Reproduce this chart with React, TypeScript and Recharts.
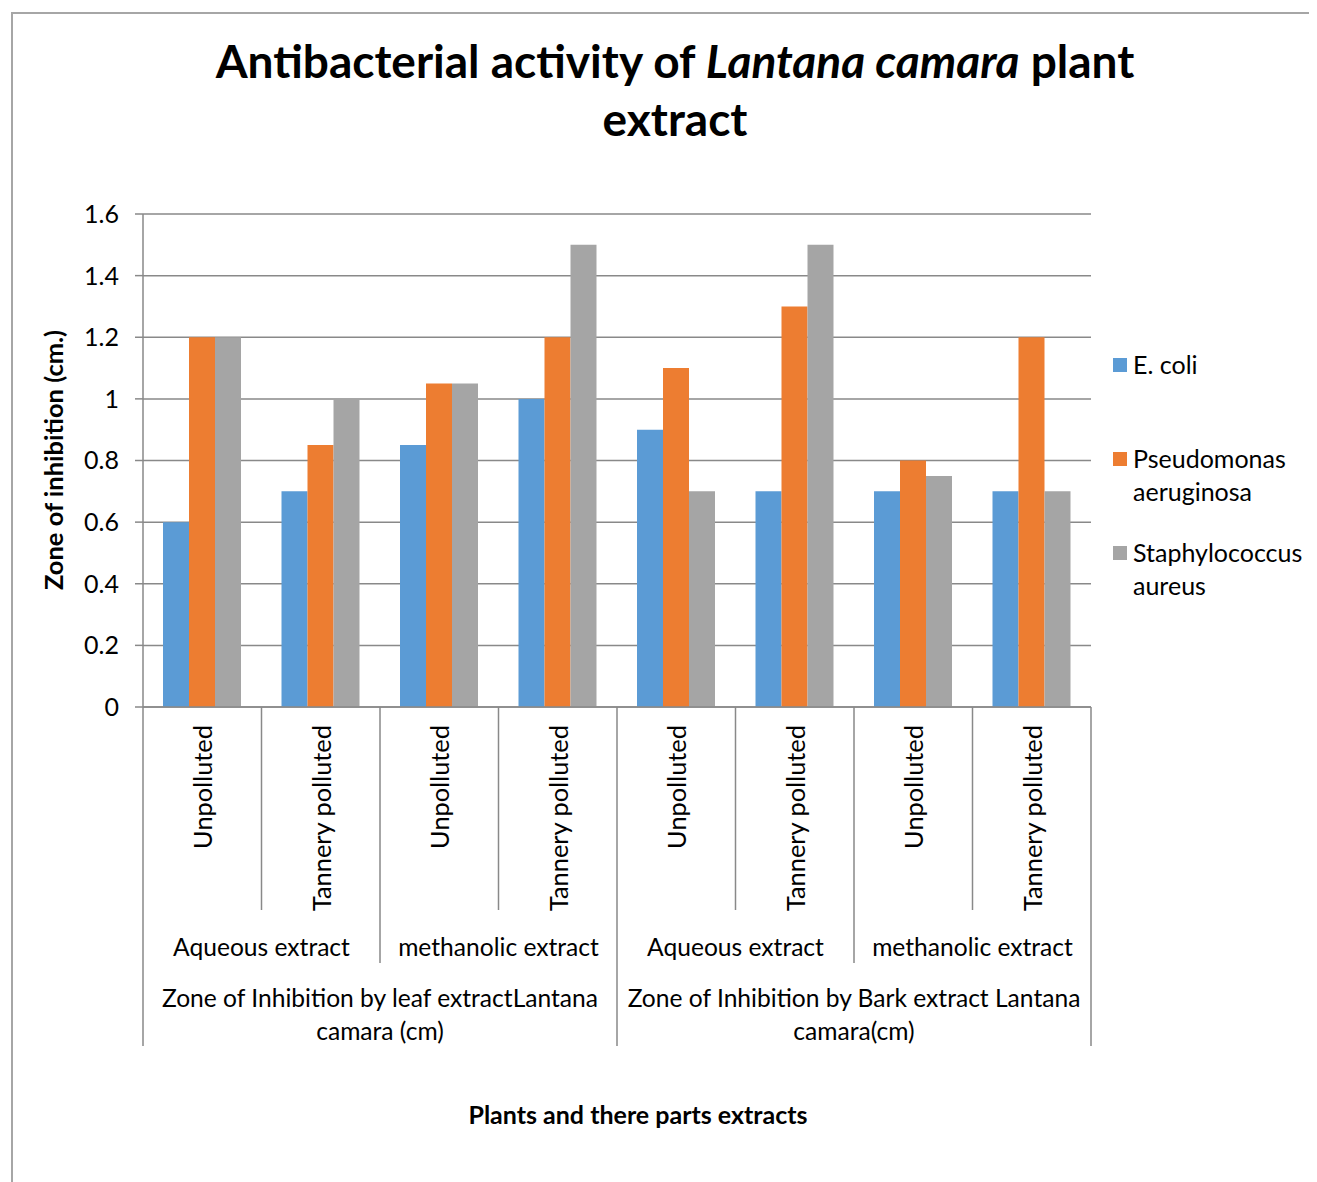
import { BarChart, Bar, XAxis, YAxis, CartesianGrid, Legend } from 'recharts';

const conditions = [
  'Unpolluted', 'Tannery polluted', 'Unpolluted', 'Tannery polluted',
  'Unpolluted', 'Tannery polluted', 'Unpolluted', 'Tannery polluted',
];
const extracts = ['Aqueous extract', 'methanolic extract', 'Aqueous extract', 'methanolic extract'];
const parts = [
  ['Zone of Inhibition by leaf extractLantana', 'camara (cm)'],
  ['Zone of Inhibition by Bark extract Lantana', 'camara(cm)'],
];
const eColi = [0.6, 0.7, 0.85, 1.0, 0.9, 0.7, 0.7, 0.7];
const pseudomonas = [1.2, 0.85, 1.05, 1.2, 1.1, 1.3, 0.8, 1.2];
const staph = [1.2, 1.0, 1.05, 1.5, 0.7, 1.5, 0.75, 0.7];
const yTicks = [0, 0.2, 0.4, 0.6, 0.8, 1, 1.2, 1.4, 1.6];

const series = [
  { key: 'ecoli', name: 'E. coli', lines: ['E. coli'], color: '#5B9BD5' },
  { key: 'pseudo', name: 'Pseudomonas aeruginosa', lines: ['Pseudomonas', 'aeruginosa'], color: '#ED7D31' },
  { key: 'staph', name: 'Staphylococcus aureus', lines: ['Staphylococcus', 'aureus'], color: '#A5A5A5' },
];

const data = conditions.map((c, i) => ({
  name: c,
  ecoli: eColi[i],
  pseudo: pseudomonas[i],
  staph: staph[i],
}));

const W = 1309;
const H = 1174;
const FONT = 'Lato, "Open Sans", sans-serif';
const LINE = '#898989';
const margin = { top: 206, right: 226, bottom: 115, left: 0 };
const Y_W = 135;
const BAND = (W - margin.left - margin.right - Y_W) / conditions.length;

const CategoryTick = (props: any) => {
  const { x, y, payload, index } = props;
  const left = x - BAND / 2;
  const len = index % 4 === 0 ? 339 : index % 2 === 0 ? 256 : 203;
  return (
    <g fontFamily={FONT} fill="#000">
      <text
        transform={`translate(${x},${y + 18}) rotate(-90)`}
        textAnchor="end"
        dominantBaseline="central"
        fontSize={25.4}
      >
        {payload.value}
      </text>
      <line x1={left} x2={left} y1={y} y2={y + len} stroke={LINE} strokeWidth={1.5} />
      {index === conditions.length - 1 && (
        <line x1={x + BAND / 2} x2={x + BAND / 2} y1={y} y2={y + 339} stroke={LINE} strokeWidth={1.5} />
      )}
      {index % 2 === 0 && (
        <text x={x + BAND / 2} y={y + 239} textAnchor="middle" dominantBaseline="central" fontSize={24.6}>
          {extracts[index / 2]}
        </text>
      )}
      {index % 4 === 0 &&
        parts[index / 4].map((ln, k) => (
          <text
            key={k}
            x={left + 2 * BAND}
            y={y + 290 + k * 33}
            textAnchor="middle"
            dominantBaseline="central"
            fontSize={24.6}
          >
            {ln}
          </text>
        ))}
    </g>
  );
};

const LegendContent = () => (
  <div style={{ fontFamily: FONT, fontSize: 25, color: '#000' }}>
    {series.map((s, i) => (
      <div key={s.key} style={{ position: 'absolute', left: 0, top: i * 94, lineHeight: '33px' }}>
        <span
          style={{
            position: 'absolute',
            left: 0,
            top: 10,
            width: 14,
            height: 14,
            background: s.color,
          }}
        />
        <div style={{ marginLeft: 20, whiteSpace: 'nowrap' }}>
          {s.lines.map((l) => (
            <div key={l}>{l}</div>
          ))}
        </div>
      </div>
    ))}
  </div>
);

export default function App() {
  return (
    <div style={{ position: 'relative', width: W, height: H, background: '#fff' }}>
      <div
        style={{
          position: 'absolute',
          left: 3,
          top: 4,
          right: 0,
          bottom: 0,
          borderLeft: '2px solid #a6a6a6',
          borderTop: '2px solid #a6a6a6',
        }}
      />
      <div
        style={{
          position: 'absolute',
          left: 167,
          top: 24,
          width: 1000,
          textAlign: 'center',
          fontFamily: FONT,
          fontWeight: 700,
          fontSize: 46,
          lineHeight: '58px',
        }}
      >
        Antibacterial activity of <i>Lantana camara</i> plant
        <br />
        extract
      </div>
      <div
        style={{
          position: 'absolute',
          left: 45,
          top: 452,
          transform: 'translate(-50%, -50%) rotate(-90deg)',
          whiteSpace: 'nowrap',
          fontFamily: FONT,
          fontWeight: 700,
          fontSize: 25.5,
        }}
      >
        Zone of inhibition (cm.)
      </div>
      <div
        style={{
          position: 'absolute',
          left: 630,
          top: 1106,
          transform: 'translate(-50%, -50%)',
          whiteSpace: 'nowrap',
          fontFamily: FONT,
          fontWeight: 700,
          fontSize: 25,
        }}
      >
        Plants and there parts extracts
      </div>
      <BarChart
        width={W}
        height={H}
        data={data}
        margin={margin}
        barCategoryGap={20}
        barGap={0}
        style={{ position: 'absolute', left: 0, top: 0 }}
      >
        <CartesianGrid vertical={false} stroke={LINE} strokeWidth={1.5} />
        <XAxis
          dataKey="name"
          interval={0}
          height={360}
          tickLine={false}
          tickSize={0}
          tickMargin={0}
          axisLine={{ stroke: LINE, strokeWidth: 1.5 }}
          tick={<CategoryTick />}
        />
        <YAxis
          width={Y_W}
          domain={[0, 1.6]}
          ticks={yTicks}
          tickSize={8}
          tickMargin={16}
          tickFormatter={(v: number) => String(v)}
          tickLine={{ stroke: LINE, strokeWidth: 1.5 }}
          axisLine={{ stroke: LINE, strokeWidth: 1.5 }}
          tick={{ fontFamily: FONT, fontSize: 25, fill: '#000' }}
        />
        <Legend
          layout="vertical"
          align="center"
          verticalAlign="middle"
          content={<LegendContent />}
          wrapperStyle={{ left: 1105, top: 340, width: 200, height: 300 }}
        />
        {series.map((s) => (
          <Bar key={s.key} dataKey={s.key} name={s.name} fill={s.color} isAnimationActive={false} />
        ))}
      </BarChart>
    </div>
  );
}
